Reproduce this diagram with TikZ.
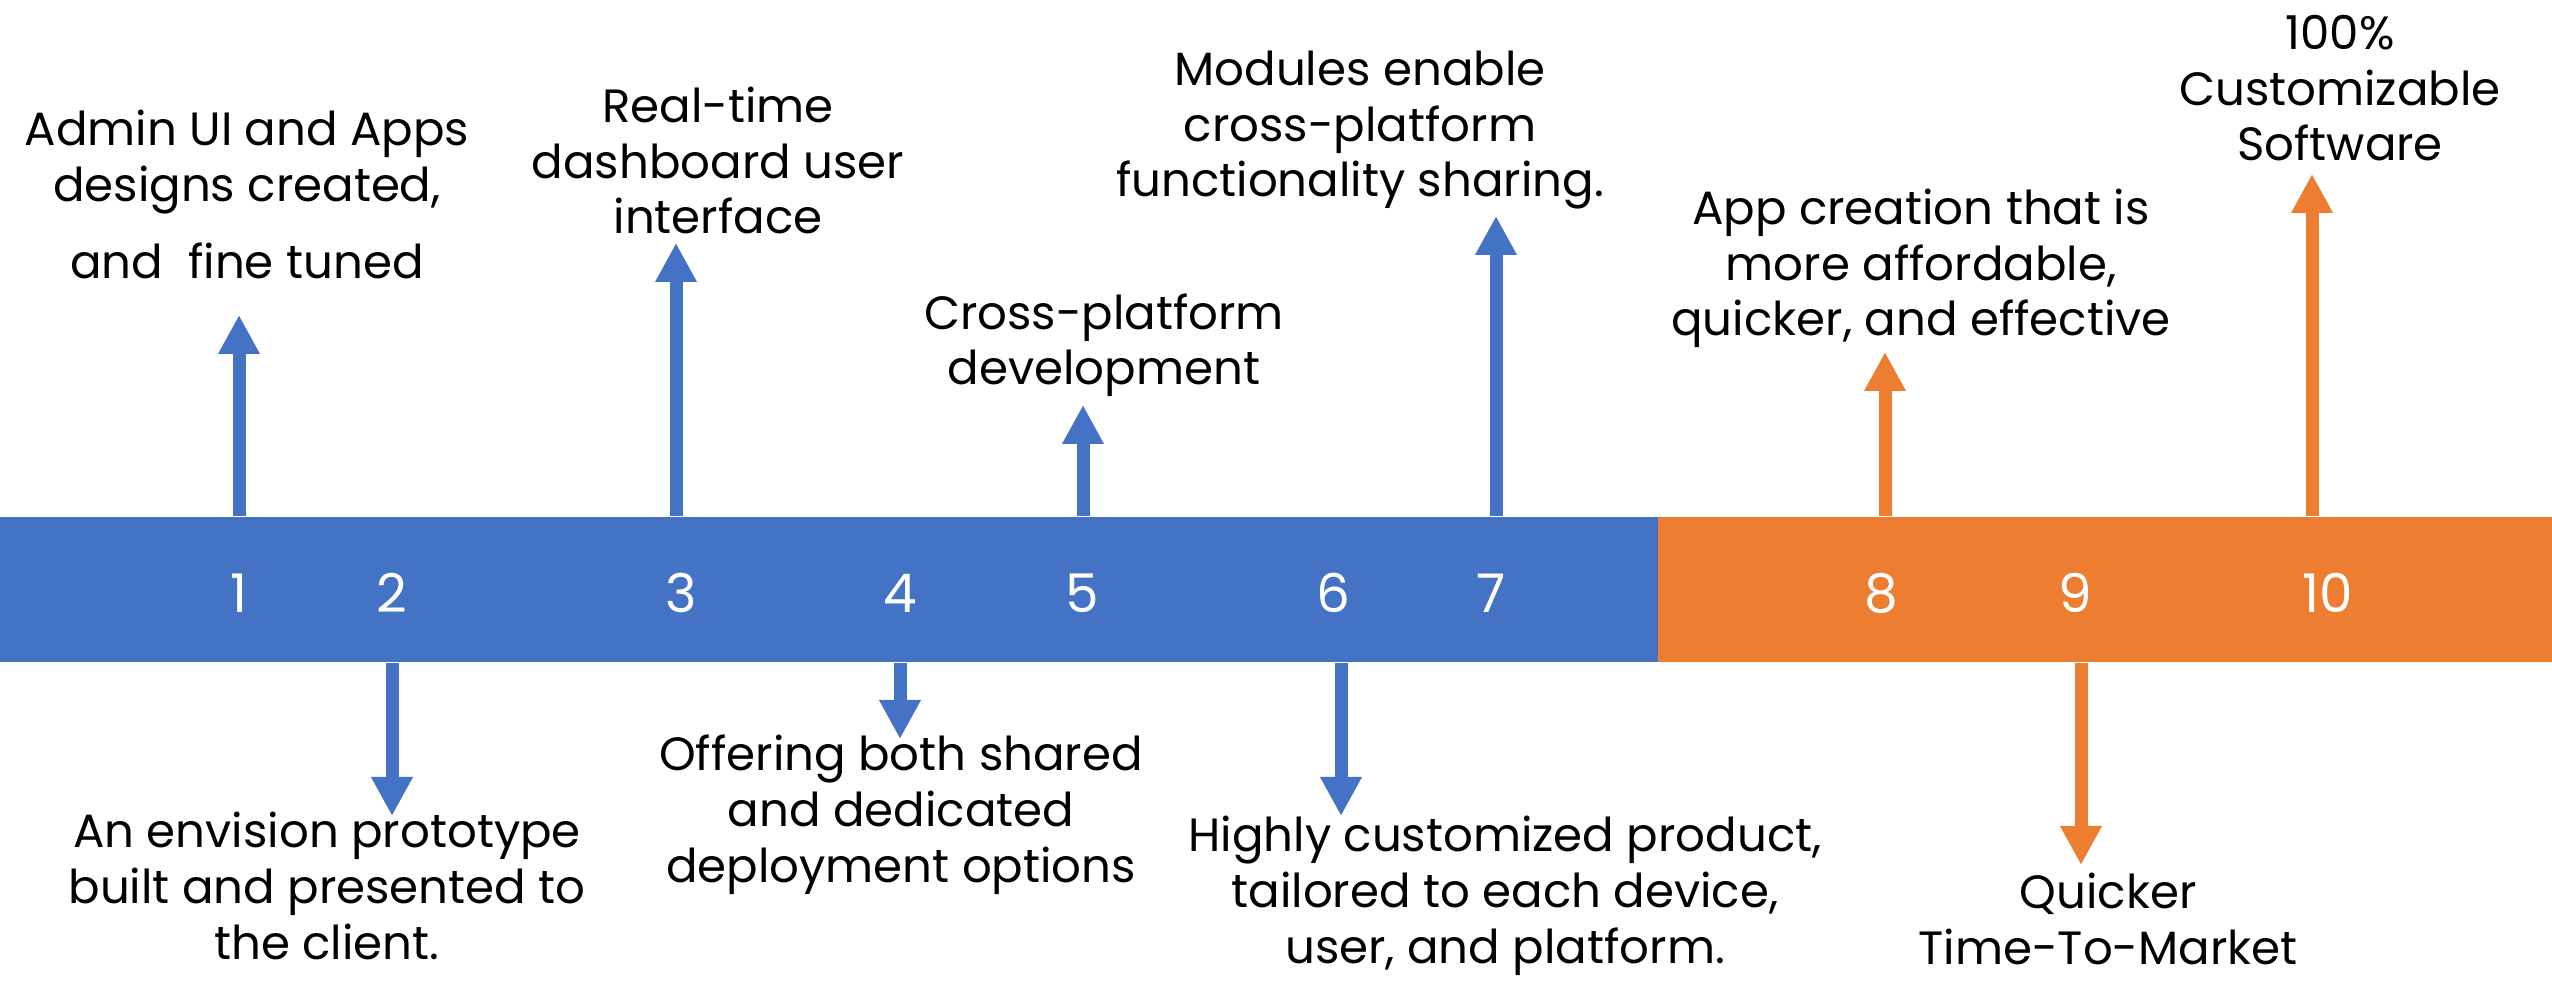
\documentclass[tikz,border=0pt]{standalone}
\usepackage{fontspec}
\setmainfont{Poppins}
\usetikzlibrary{arrows.meta}
\definecolor{tlblue}{HTML}{4472C4}
\definecolor{tlorange}{HTML}{ED7D31}
\begin{document}
\begin{tikzpicture}[>={Triangle[width=11.7bp,length=11.7bp]},line join=bevel,
  note/.style={align=center,inner sep=0pt,anchor=base,font=\fontsize{14bp}{16.7bp}\selectfont},
  num/.style={text=white,inner sep=0pt,font=\fontsize{16bp}{18bp}\selectfont},
  stem/.style={->,line width=3.9bp}]
%%
\useasboundingbox (0bp,0bp) rectangle (765.6bp,296.4bp);
\node (bar_blue) at (248.7bp,119.55bp) [fill=tlblue,inner sep=0pt,minimum width=497.4bp,minimum height=43.5bp] {};
  \node (bar_orange) at (631.5bp,119.55bp) [fill=tlorange,inner sep=0pt,minimum width=268.2bp,minimum height=43.5bp] {};
%
\node (num_1) at (71.7bp,118.5bp) [num] {1};
  \node (num_2) at (117.6bp,118.5bp) [num] {2};
  \node (num_3) at (204.3bp,118.5bp) [num] {3};
  \node (num_4) at (270.0bp,118.5bp) [num] {4};
  \node (num_5) at (324.6bp,118.5bp) [num] {5};
  \node (num_6) at (399.9bp,118.5bp) [num] {6};
  \node (num_7) at (447.3bp,118.5bp) [num] {7};
  \node (num_8) at (564.3bp,118.5bp) [num] {8};
  \node (num_9) at (622.5bp,118.5bp) [num] {9};
  \node (num_10) at (698.4bp,118.5bp) [num] {10};
%
\node (note_1) at (74.1bp,212.7bp) [note] {Admin UI and Apps\\designs created,\\[6.6bp]and~ fine tuned};
  \node (note_2) at (98.1bp,8.7bp) [note] {An envision prototype\\built and presented to\\the client.};
  \node (note_3) at (215.4bp,226.2bp) [note] {Real-time\\dashboard user\\interface};
  \node (note_4) at (270.3bp,31.8bp) [note] {Offering both shared\\and dedicated\\deployment options};
  \node (note_5) at (331.2bp,180.9bp) [note] {Cross-platform\\development};
  \node (note_6) at (451.5bp,7.5bp) [note] {Highly customized product,\\tailored to each device,\\user, and platform.};
  \node (note_7) at (408.0bp,237.3bp) [note] {Modules enable\\cross-platform\\functionality sharing.};
  \node (note_8) at (576.3bp,195.6bp) [note] {App creation that is\\more affordable,\\quicker, and effective};
  \node (note_9) at (632.4bp,7.2bp) [note] {Quicker\\Time-To-Market};
  \node (note_10) at (702.0bp,248.1bp) [note] {100\%\\Customizable\\Software};
%
\coordinate (tip_1) at (71.7bp,201.9bp);
  \coordinate (tip_2) at (117.6bp,51.6bp);
  \coordinate (tip_3) at (202.8bp,223.5bp);
  \coordinate (tip_4) at (270.0bp,74.7bp);
  \coordinate (tip_5) at (324.9bp,174.9bp);
  \coordinate (tip_6) at (402.3bp,51.6bp);
  \coordinate (tip_7) at (448.8bp,231.6bp);
  \coordinate (tip_8) at (565.5bp,190.8bp);
  \coordinate (tip_9) at (624.3bp,36.9bp);
  \coordinate (tip_10) at (693.6bp,244.2bp);
%
\draw [tlblue,stem] (tip_1 |- bar_blue.north) -- (tip_1);
  \draw [tlblue,stem] (tip_2 |- bar_blue.south) -- (tip_2);
  \draw [tlblue,stem] (tip_3 |- bar_blue.north) -- (tip_3);
  \draw [tlblue,stem] (tip_4 |- bar_blue.south) -- (tip_4);
  \draw [tlblue,stem] (tip_5 |- bar_blue.north) -- (tip_5);
  \draw [tlblue,stem] (tip_6 |- bar_blue.south) -- (tip_6);
  \draw [tlblue,stem] (tip_7 |- bar_blue.north) -- (tip_7);
  \draw [tlorange,stem] (tip_8 |- bar_orange.north) -- (tip_8);
  \draw [tlorange,stem] (tip_9 |- bar_orange.south) -- (tip_9);
  \draw [tlorange,stem] (tip_10 |- bar_orange.north) -- (tip_10);
%
\end{tikzpicture}
\end{document}
